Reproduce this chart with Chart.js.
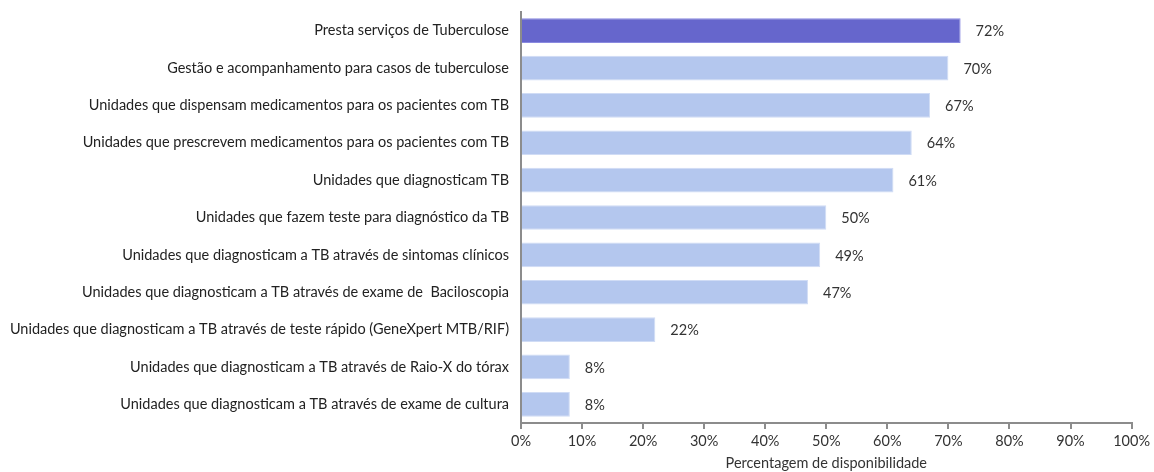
<!DOCTYPE html>
<html>
<head>
<meta charset="utf-8">
<script src="https://cdn.jsdelivr.net/npm/chart.js@4.4.1/dist/chart.umd.min.js"></script>
<style>
  html, body { margin: 0; padding: 0; background: #fff; }
  #wrap { width: 1154px; height: 472px; }
</style>
</head>
<body>
<div id="wrap"><canvas id="dispChart" width="1154" height="472"></canvas></div>
<script>
const categories = [
    "Presta serviços de Tuberculose",
    "Gestão e acompanhamento para casos de tuberculose",
    "Unidades que dispensam medicamentos para os pacientes com TB",
    "Unidades que prescrevem medicamentos para os pacientes com TB",
    "Unidades que diagnosticam TB",
    "Unidades que fazem teste para diagnóstico da TB",
    "Unidades que diagnosticam a TB através de sintomas clínicos",
    "Unidades que diagnosticam a TB através de exame de  Baciloscopia",
    "Unidades que diagnosticam a TB através de teste rápido (GeneXpert MTB/RIF)",
    "Unidades que diagnosticam a TB através de Raio-X do tórax",
    "Unidades que diagnosticam a TB através de exame de cultura"
];
const values = [72, 70, 67, 64, 61, 50, 49, 47, 22, 8, 8];
const xTicks = [0, 10, 20, 30, 40, 50, 60, 70, 80, 90, 100];
const axisTitle = "Percentagem de disponibilidade";

const FONT = "Lato, 'Open Sans', sans-serif";
const axisGray = "#8c8c8c";

// primeira barra em destaque, as restantes em azul claro
const fillColors = values.map((v, i) => i === 0 ? "#6666cc" : "#b4c7ee");
const edgeColors = values.map((v, i) => i === 0 ? "#8a8ae0" : "#d0dcf5");

// escreve o valor à direita de cada barra
const valueLabels = {
    id: "valueLabels",
    afterDatasetsDraw(chart) {
        const ctx = chart.ctx;
        const meta = chart.getDatasetMeta(0);
        ctx.save();
        ctx.font = "14.5px " + FONT;
        ctx.fillStyle = "#333";
        ctx.textAlign = "left";
        ctx.textBaseline = "middle";
        meta.data.forEach((bar, i) => {
            ctx.fillText(values[i] + "%", bar.x + 15, bar.y + 1);
        });
        ctx.restore();
    }
};

new Chart(document.getElementById("dispChart"), {
    type: "bar",
    data: {
        labels: categories,
        datasets: [{
            data: values,
            backgroundColor: fillColors,
            borderColor: edgeColors,
            borderWidth: 1,
            barPercentage: 0.66,
            categoryPercentage: 1
        }]
    },
    options: {
        indexAxis: "y",
        responsive: false,
        animation: false,
        layout: { padding: { top: 12, right: 20, bottom: 0, left: 0 } },
        plugins: {
            legend: { display: false },
            tooltip: { enabled: false }
        },
        scales: {
            x: {
                min: 0,
                max: 100,
                afterBuildTicks: scale => {
                    scale.ticks = xTicks.map(v => ({ value: v }));
                },
                afterFit: scale => { scale.height = 49; },
                grid: {
                    drawOnChartArea: false,
                    drawTicks: true,
                    tickLength: 6,
                    color: axisGray,
                    lineWidth: 2
                },
                border: { display: true, color: axisGray, width: 2 },
                ticks: {
                    padding: 4,
                    color: "#333",
                    font: { family: FONT, size: 14.5 },
                    callback: v => v + "%"
                },
                title: {
                    display: true,
                    text: axisTitle,
                    color: "#333",
                    font: { family: FONT, size: 14.5 },
                    padding: { top: 2, bottom: 0 }
                }
            },
            y: {
                afterFit: scale => {
                    scale.width = 521;
                    scale.paddingTop = 0;
                    scale.paddingBottom = 0;
                },
                grid: { display: false, drawTicks: false },
                border: { display: true, color: axisGray, width: 2 },
                ticks: {
                    padding: 12,
                    color: "#222",
                    font: { family: FONT, size: 14.5 }
                }
            }
        }
    },
    plugins: [valueLabels]
});
</script>
</body>
</html>
